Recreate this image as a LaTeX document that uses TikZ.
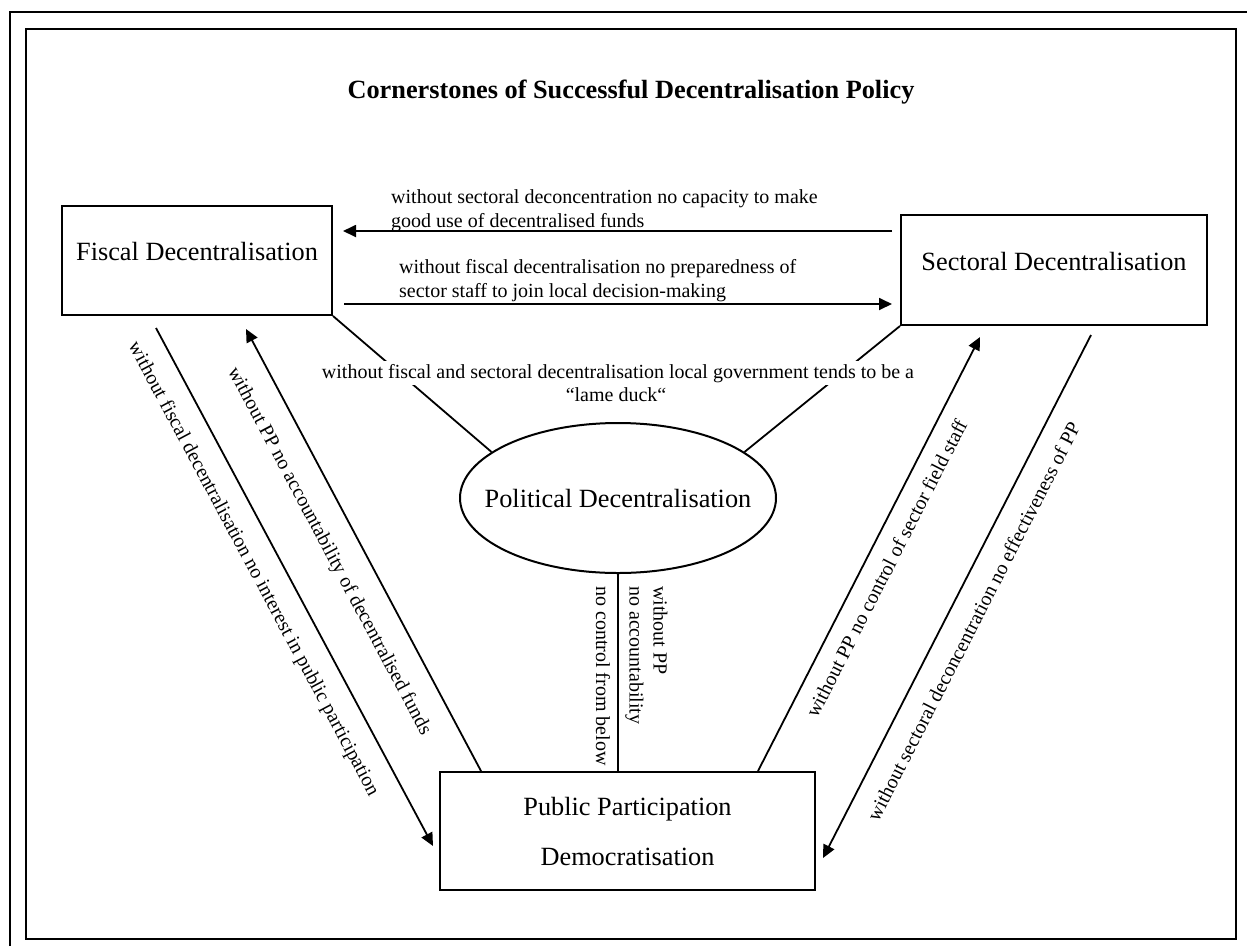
\documentclass[tikz,border=0pt]{standalone}
\usepackage{fontspec}
\setmainfont{Liberation Serif}
\usepackage{tikz}
\usetikzlibrary{arrows.meta}
\usetikzlibrary{shapes.geometric}
\newcommand{\bigf}{\fontsize{26.3}{31}\selectfont}
\newcommand{\smallf}{\fontsize{20}{24}\selectfont}

\begin{document}
\begin{tikzpicture}[x=1pt, y=-1pt]
    \tikzstyle{box} = [rectangle, draw=black, line width=2pt, inner sep=0pt];
    \tikzstyle{oval} = [ellipse, draw=black, line width=2pt, inner sep=0pt];
    \tikzstyle{lbl} = [font=\smallf, inner sep=2pt];

    \useasboundingbox (0,0) rectangle (1247,946);
    \draw[line width=2pt] (10,946) -- (10,12) -- (1247,12);
    \draw[line width=2pt] (26,29) rectangle (1236,939);

    \node (title) at (631,98) [anchor=base, font=\bigf\bfseries] {Cornerstones of Successful Decentralisation Policy};

    \node (fisc) at (197,260.5) [box, minimum width=270pt, minimum height=109pt, font=\bigf, text height=9pt, text depth=9pt] {Fiscal Decentralisation};
    \node (sect) at (1054,270) [box, minimum width=306pt, minimum height=110pt, font=\bigf, text height=9pt, text depth=9pt] {Sectoral Decentralisation};
    \node (pol)  at (618,498) [oval, minimum width=316pt, minimum height=150pt, label={[font=\bigf]center:Political Decentralisation}] {};
    \node (part) at (627.5,831) [box, minimum width=375pt, minimum height=118pt, align=center, font=\fontsize{26.3}{50}\selectfont] {Public Participation\\Democratisation};

    \coordinate (y_1) at (0,231);
    \coordinate (y_2) at (0,304);
    \coordinate (a_1) at (156,328);
    \coordinate (a_2) at (433,846);
    \coordinate (b_1) at (246,329);
    \coordinate (c_1) at (980,337);
    \coordinate (d_1) at (1091,335);
    \coordinate (d_2) at (823,858);

    % lines to the political centre
    \begin{scope}[line width=1.8pt]
      \draw (fisc.south east) -- (pol.160);
      \draw (sect.south west) -- (pol.20);
      \draw (pol.south) -- (pol.south |- part.north);
    \end{scope}

    \begin{scope}[line width=1.8pt, -{Triangle[length=13pt, width=12pt]}]
      \draw[shorten <=8pt, shorten >=10pt] (sect.west |- y_1) -- (fisc.east |- y_1);
      \draw[shorten <=11pt, shorten >=8pt] (fisc.east |- y_2) -- (sect.west |- y_2);

      \draw (a_1) -- node[lbl, sloped, pos=0.44, below=16pt] {without fiscal decentralisation no interest in public participation} (a_2);
      \draw ([xshift=42pt]part.north west) -- node[lbl, sloped, pos=0.53, below=19pt] {without PP no accountability of decentralised funds} (b_1);
      \draw ([xshift=-58pt]part.north east) -- node[lbl, sloped, pos=0.49, below=12pt] {without PP no control of sector field staff} (c_1);
      \draw (d_1) -- node[lbl, sloped, pos=0.525, below=16pt] {without sectoral deconcentration no effectiveness of PP} (d_2);
    \end{scope}

    \node (cap_1) at (389,187) [lbl, anchor=north west, align=left] {without sectoral deconcentration no capacity to make\\good use of decentralised funds};
    \node (cap_2) at (397,257) [lbl, anchor=north west, align=left] {without fiscal decentralisation no preparedness of\\sector staff to join local decision-making};

    \node (duck_1) at (618,378) [lbl, anchor=base, fill=white, inner sep=3pt] {without fiscal and sectoral decentralisation local government tends to be a};
    \node (duck_2) at (616,401) [lbl, anchor=base] {“lame duck“};

    \node (ctrl) at (603,584) [lbl, rotate=-90, anchor=west] {no control from below};
    \node (acct) at (646.5,584) [lbl, rotate=-90, anchor=west, align=left] {without PP\\no accountability};
  \end{tikzpicture}
\end{document}
